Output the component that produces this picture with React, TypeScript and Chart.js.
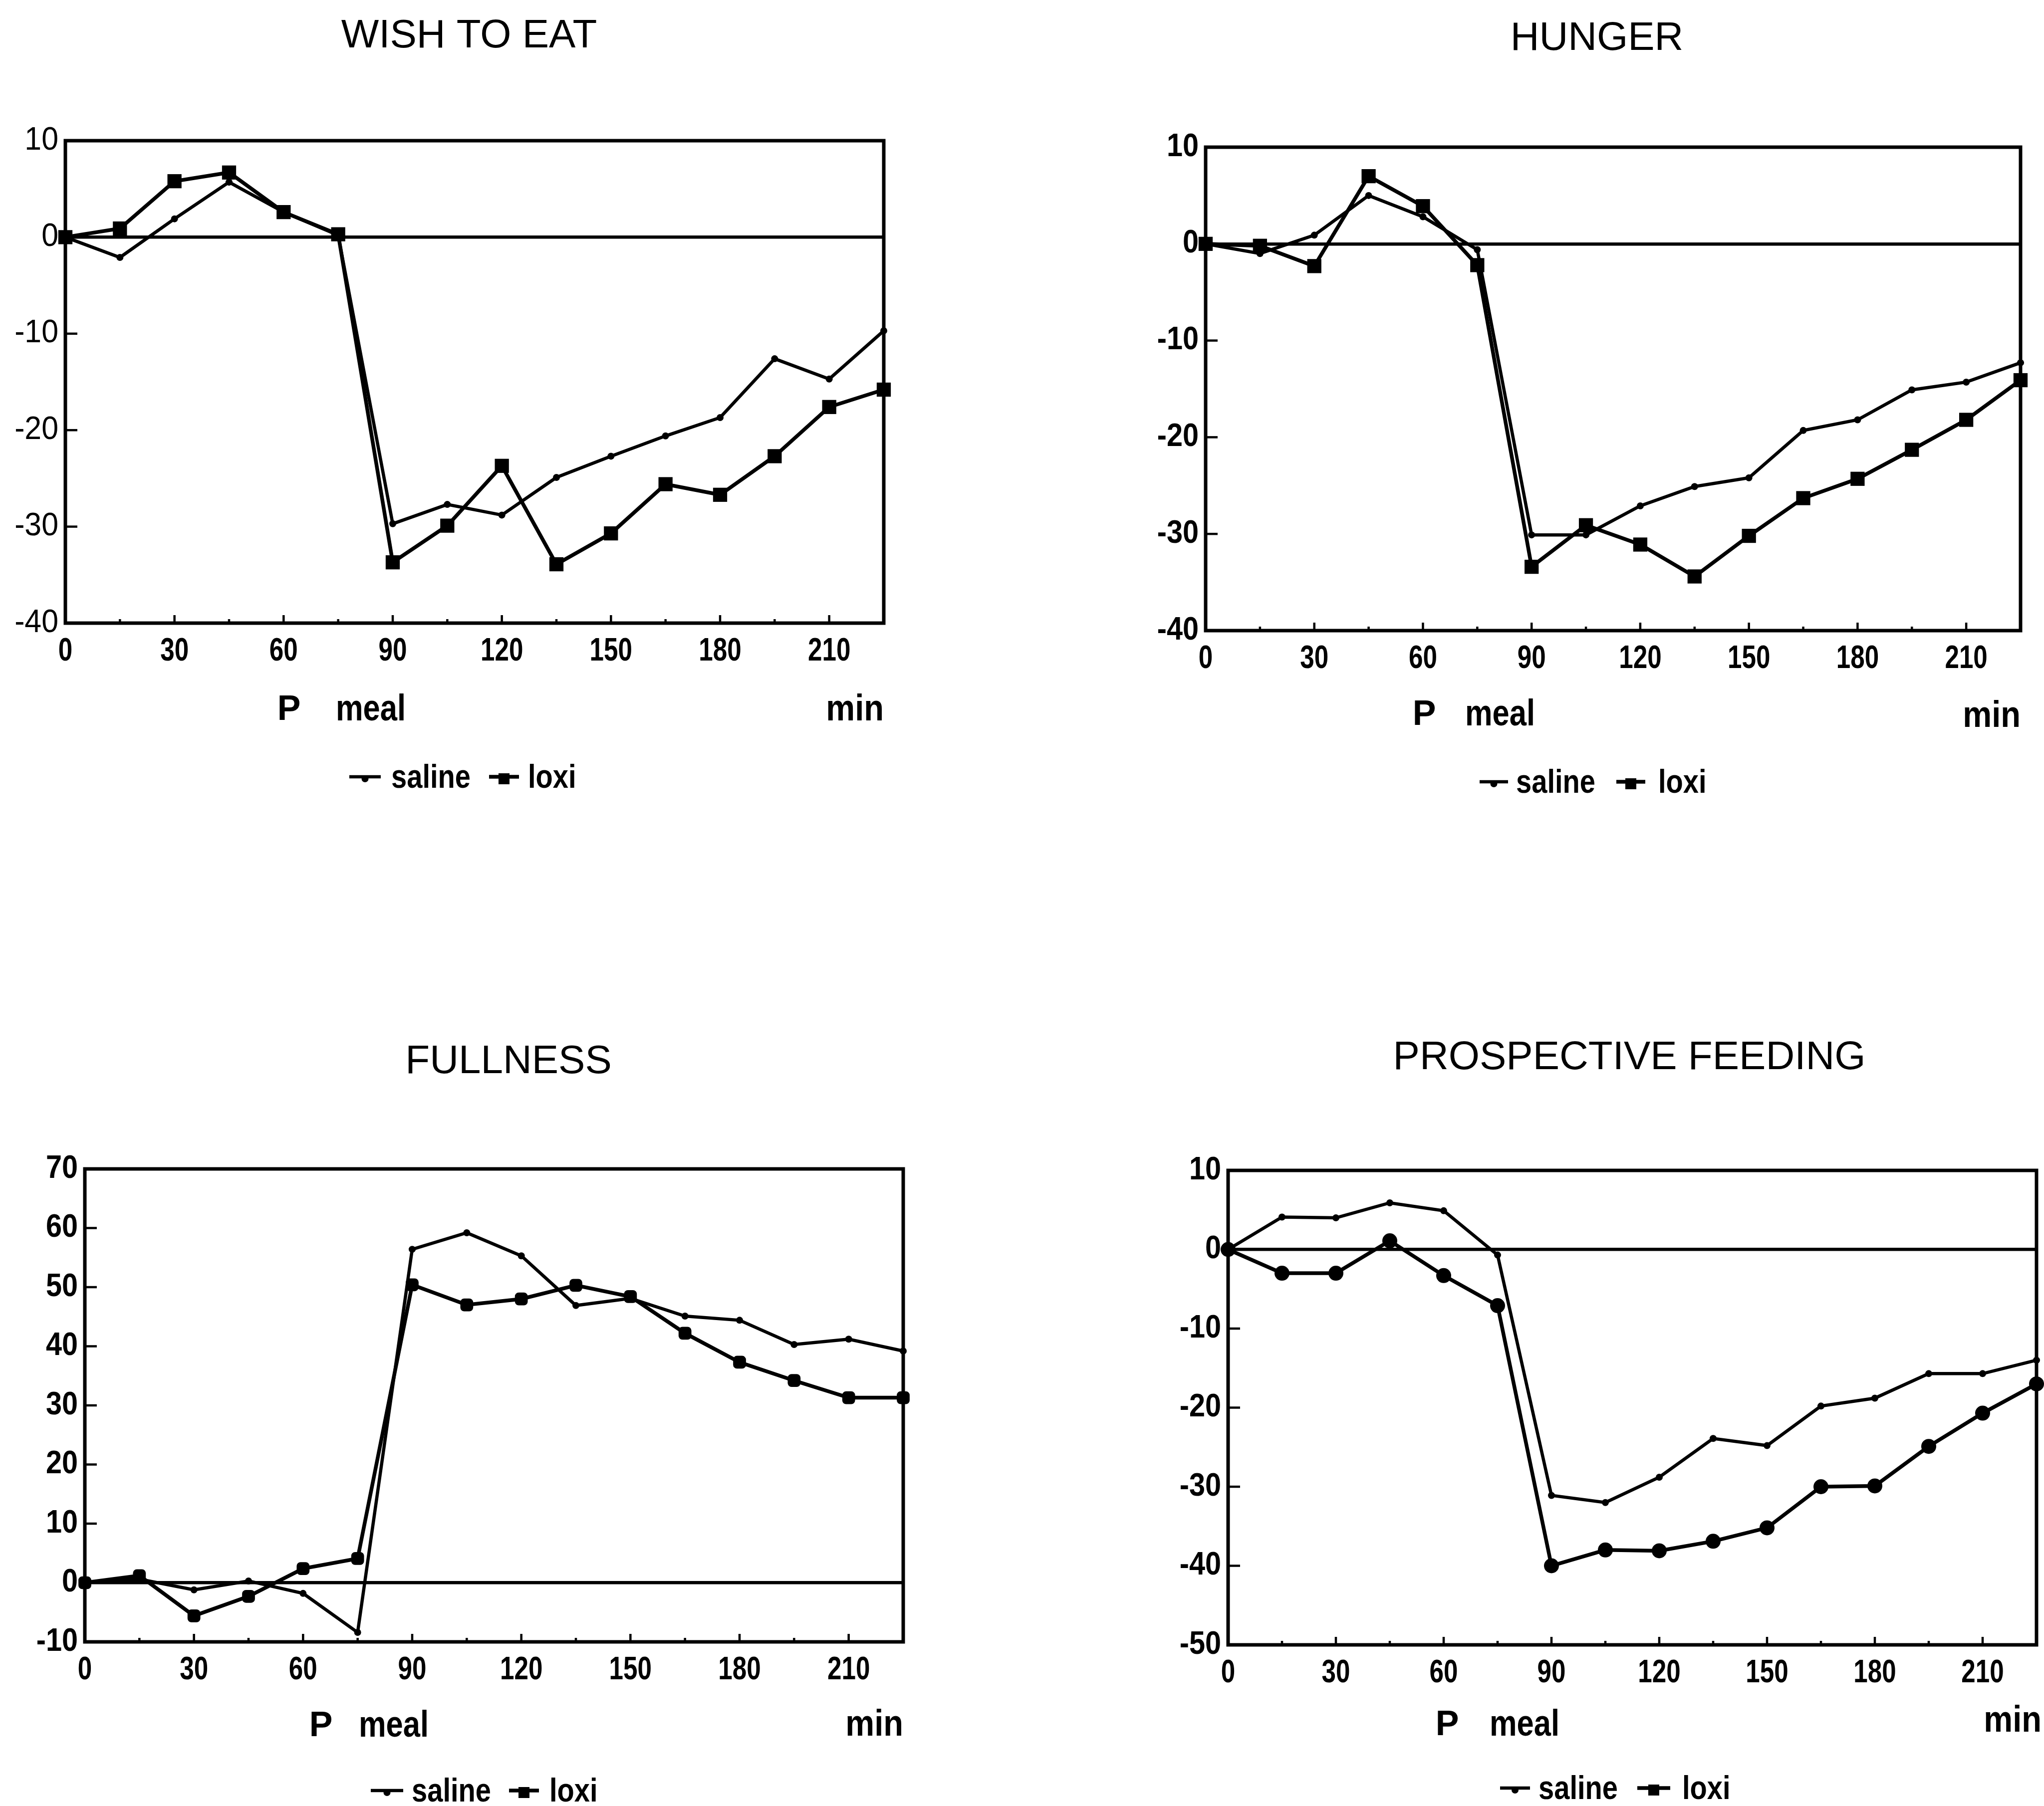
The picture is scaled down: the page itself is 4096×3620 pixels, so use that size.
import React, { useEffect, useRef } from 'react';
import { Chart, registerables } from 'chart.js';

Chart.register(...registerables);

// ---------------- data ----------------
const minutes = [0, 15, 30, 45, 60, 75, 90, 105, 120, 135, 150, 165, 180, 195, 210, 225];
const xTickValues = [0, 30, 60, 90, 120, 150, 180, 210];

const seriesNames = ['saline', 'loxi'];
const titles = ['WISH TO EAT', 'HUNGER', 'FULLNESS', 'PROSPECTIVE FEEDING'];
const xLabelP = 'P';
const xLabelMeal = 'meal';
const xUnit = 'min';

const wishSaline = [0, -2.1, 1.9, 5.7, 2.6, 0.2, -29.7, -27.7, -28.8, -24.9, -22.7, -20.6, -18.7, -12.6, -14.7, -9.7];
const wishLoxi = [0, 0.9, 5.8, 6.7, 2.6, 0.3, -33.7, -29.9, -23.7, -33.9, -30.7, -25.6, -26.7, -22.7, -17.6, -15.8];
const wishTicks = [-40, -30, -20, -10, 0, 10];

const hungerSaline = [0, -1.0, 0.9, 5.0, 2.8, -0.6, -30.1, -30.1, -27.1, -25.1, -24.2, -19.3, -18.2, -15.1, -14.3, -12.3];
const hungerLoxi = [0, -0.2, -2.3, 7.0, 3.9, -2.2, -33.4, -29.1, -31.1, -34.4, -30.2, -26.3, -24.3, -21.3, -18.2, -14.1];
const hungerTicks = [-40, -30, -20, -10, 0, 10];

const fullSaline = [0, 0.6, -1.2, 0.3, -1.8, -8.4, 56.4, 59.2, 55.3, 46.9, 48.1, 45.1, 44.4, 40.3, 41.2, 39.2];
const fullLoxi = [0, 1.2, -5.6, -2.3, 2.4, 4.1, 50.4, 47.0, 48.0, 50.3, 48.4, 42.2, 37.3, 34.2, 31.3, 31.3];
const fullTicks = [-10, 0, 10, 20, 30, 40, 50, 60, 70];

const prospSaline = [0, 4.1, 4.0, 5.9, 4.9, -0.7, -31.1, -32.0, -28.8, -23.9, -24.8, -19.8, -18.8, -15.7, -15.7, -14.0];
const prospLoxi = [0, -3.0, -3.0, 1.1, -3.3, -7.1, -40.0, -38.0, -38.1, -36.9, -35.2, -30.0, -29.9, -24.9, -20.7, -17.0];
const prospTicks = [-50, -40, -30, -20, -10, 0, 10];

// ---------------- layout ----------------
const CW = 2048;
const CH = 1810;
const XH = 90;
const BOLD = '"Liberation Sans", Arial, Helvetica, sans-serif';
const REGULAR = '"Liberation Sans", Arial, Helvetica, sans-serif';

type Panel = {
  title: string;
  saline: number[];
  loxi: number[];
  yTicks: number[];
  yWeight: number;
  loxiStyle: string;
  loxiR: number;
  canvas: [number, number];
  plot: [number, number, number, number];
  titleXY: [number, number];
  pX: number;
  mealX: number;
  labelY: number;
  minY: number;
  legY: number;
  leg: [number, number, number, number, number, number];
};

const panels: Panel[] = [
  {
    title: titles[0], saline: wishSaline, loxi: wishLoxi, yTicks: wishTicks, yWeight: 400, loxiStyle: 'rect', loxiR: 20,
    canvas: [0, 0], plot: [131, 282, 1771, 1249], titleXY: [940, 73],
    pX: 579, mealX: 673, labelY: 1424, minY: 1424, legY: 1557, leg: [700, 763, 784, 980, 1040, 1058],
  },
  {
    title: titles[1], saline: hungerSaline, loxi: hungerLoxi, yTicks: hungerTicks, yWeight: 700, loxiStyle: 'rect', loxiR: 20,
    canvas: [2048, 0], plot: [2416, 295, 4049, 1264], titleXY: [3200, 78],
    pX: 2854, mealX: 2936, labelY: 1434, minY: 1437, legY: 1567, leg: [2965, 3022, 3038, 3239, 3297, 3323],
  },
  {
    title: titles[2], saline: fullSaline, loxi: fullLoxi, yTicks: fullTicks, yWeight: 700, loxiStyle: 'rectRounded', loxiR: 15,
    canvas: [0, 1810], plot: [170, 2343, 1810, 3291], titleXY: [1019, 2129],
    pX: 643, mealX: 719, labelY: 3461, minY: 3459, legY: 3589, leg: [743, 808, 825, 1020, 1080, 1101],
  },
  {
    title: titles[3], saline: prospSaline, loxi: prospLoxi, yTicks: prospTicks, yWeight: 700, loxiStyle: 'circle', loxiR: 15,
    canvas: [2048, 1810], plot: [2461, 2346, 4091, 3297], titleXY: [3265, 2121],
    pX: 2900, mealX: 2985, labelY: 3459, minY: 3451, legY: 3584, leg: [3006, 3066, 3083, 3281, 3347, 3371],
  },
];

function drawText(
  ctx: CanvasRenderingContext2D,
  text: string,
  x: number,
  y: number,
  align: CanvasTextAlign,
  sx: number,
) {
  ctx.save();
  ctx.translate(x, y);
  ctx.scale(sx, 1);
  ctx.textAlign = align;
  ctx.fillText(text, 0, 0);
  ctx.restore();
}

function decorPlugin(p: Panel) {
  return {
    id: 'decor',
    afterDraw(chart: any) {
      const ctx = chart.ctx as CanvasRenderingContext2D;
      const a = chart.chartArea;
      const [cx, cy] = p.canvas;
      const xs = chart.scales.x;
      const ys = chart.scales.y;
      ctx.save();
      ctx.strokeStyle = '#000';
      ctx.fillStyle = '#000';
      // frame
      ctx.lineWidth = 7;
      ctx.strokeRect(a.left, a.top, a.right - a.left, a.bottom - a.top);
      // inner y ticks
      ctx.lineWidth = 4.5;
      p.yTicks.forEach((v) => {
        const py = ys.getPixelForValue(v);
        ctx.beginPath();
        ctx.moveTo(a.left, py);
        ctx.lineTo(a.left + 24, py);
        ctx.stroke();
      });
      // inner x ticks
      minutes.forEach((m, i) => {
        const px = xs.getPixelForValue(m);
        ctx.beginPath();
        ctx.moveTo(px, a.bottom);
        ctx.lineTo(px, a.bottom - (i % 2 === 0 ? 16 : 8));
        ctx.stroke();
      });
      // tick labels
      ctx.textBaseline = 'middle';
      ctx.font = `${p.yWeight} 64px ${BOLD}`;
      p.yTicks.forEach((v) => {
        drawText(ctx, String(v), a.left - 14, ys.getPixelForValue(v), 'right', p.yWeight === 400 ? 0.95 : 0.9);
      });
      ctx.font = `700 64px ${BOLD}`;
      xTickValues.forEach((v) => {
        drawText(ctx, String(v), xs.getPixelForValue(v), a.bottom + 57, 'center', 0.8);
      });
      // title
      ctx.font = `400 80px ${REGULAR}`;
      drawText(ctx, p.title, p.titleXY[0] - cx, p.titleXY[1] - cy, 'center', 1);
      // P meal / min
      ctx.font = `700 70px ${BOLD}`;
      drawText(ctx, xLabelP, p.pX - cx, p.labelY - cy, 'center', 1);
      ctx.font = `700 74px ${BOLD}`;
      drawText(ctx, xLabelMeal, p.mealX - cx, p.labelY - cy, 'left', 0.83);
      drawText(ctx, xUnit, p.plot[2] - cx, p.minY - cy, 'right', 0.88);
      // legend
      const ly = p.legY - cy;
      const [s1, s2, st, l1, l2, lt] = p.leg.map((v) => v - cx);
      ctx.lineWidth = 6.5;
      ctx.beginPath();
      ctx.moveTo(s1, ly);
      ctx.lineTo(s2, ly);
      ctx.stroke();
      ctx.beginPath();
      ctx.arc((s1 + s2) / 2, ly + 4, 7, 0, Math.PI * 2);
      ctx.fill();
      ctx.lineWidth = 7.5;
      ctx.beginPath();
      ctx.moveTo(l1, ly);
      ctx.lineTo(l2, ly);
      ctx.stroke();
      ctx.fillRect((l1 + l2) / 2 - 11, ly - 7, 22, 22);
      ctx.font = `700 66px ${BOLD}`;
      drawText(ctx, seriesNames[0], st, ly + 4, 'left', 0.85);
      drawText(ctx, seriesNames[1], lt, ly + 4, 'left', 0.85);
      ctx.restore();
    },
  };
}

function PanelChart({ p }: { p: Panel }) {
  const ref = useRef<HTMLCanvasElement | null>(null);
  useEffect(() => {
    const [cx, cy] = p.canvas;
    const [L, T, R, B] = p.plot;
    const l = L - cx;
    const t = T - cy;
    const r = R - cx;
    const b = B - cy;
    const chart = new Chart(ref.current as HTMLCanvasElement, {
      type: 'line',
      data: {
        datasets: [
          {
            label: seriesNames[0],
            data: minutes.map((m, i) => ({ x: m, y: p.saline[i] })),
            borderColor: '#000',
            backgroundColor: '#000',
            pointBackgroundColor: '#000',
            pointBorderColor: '#000',
            borderWidth: 6.5,
            pointStyle: 'circle',
            pointRadius: 7,
            pointBorderWidth: 0,
            tension: 0,
            clip: false as any,
          },
          {
            label: seriesNames[1],
            data: minutes.map((m, i) => ({ x: m, y: p.loxi[i] })),
            borderColor: '#000',
            backgroundColor: '#000',
            pointBackgroundColor: '#000',
            pointBorderColor: '#000',
            borderWidth: 7.5,
            pointStyle: p.loxiStyle as any,
            pointRadius: p.loxiR,
            pointBorderWidth: 0,
            tension: 0,
            clip: false as any,
          },
        ],
      },
      options: {
        animation: false,
        responsive: false,
        devicePixelRatio: 1,
        events: [],
        layout: { padding: { left: 0, top: t, right: CW - r, bottom: CH - b - XH } },
        plugins: { legend: { display: false }, title: { display: false }, tooltip: { enabled: false } },
        scales: {
          x: {
            type: 'linear',
            min: 0,
            max: 225,
            afterBuildTicks: (s: any) => {
              s.ticks = xTickValues.map((v) => ({ value: v }));
            },
            afterFit: (s: any) => {
              s.height = XH;
            },
            grid: { display: false },
            border: { display: false },
            ticks: { display: false },
          },
          y: {
            type: 'linear',
            min: p.yTicks[0],
            max: p.yTicks[p.yTicks.length - 1],
            afterBuildTicks: (s: any) => {
              s.ticks = p.yTicks.map((v) => ({ value: v }));
            },
            afterFit: (s: any) => {
              s.width = l;
            },
            grid: {
              color: (c: any) => (c.tick && c.tick.value === 0 ? '#000' : 'rgba(0,0,0,0)'),
              lineWidth: 6.5,
              drawTicks: false,
            },
            border: { display: false },
            ticks: { display: false },
          },
        },
      },
      plugins: [decorPlugin(p)],
    });
    return () => chart.destroy();
  }, [p]);
  return (
    <canvas
      ref={ref}
      width={CW}
      height={CH}
      style={{ position: 'absolute', left: p.canvas[0], top: p.canvas[1], width: CW, height: CH }}
    />
  );
}

export default function App() {
  return (
    <div
      style={{
        position: 'absolute',
        left: 0,
        top: 0,
        width: 4096,
        height: 3620,
        overflow: 'hidden',
        background: '#fff',
      }}
    >
      {panels.map((p, i) => (
        <PanelChart key={i} p={p} />
      ))}
    </div>
  );
}
